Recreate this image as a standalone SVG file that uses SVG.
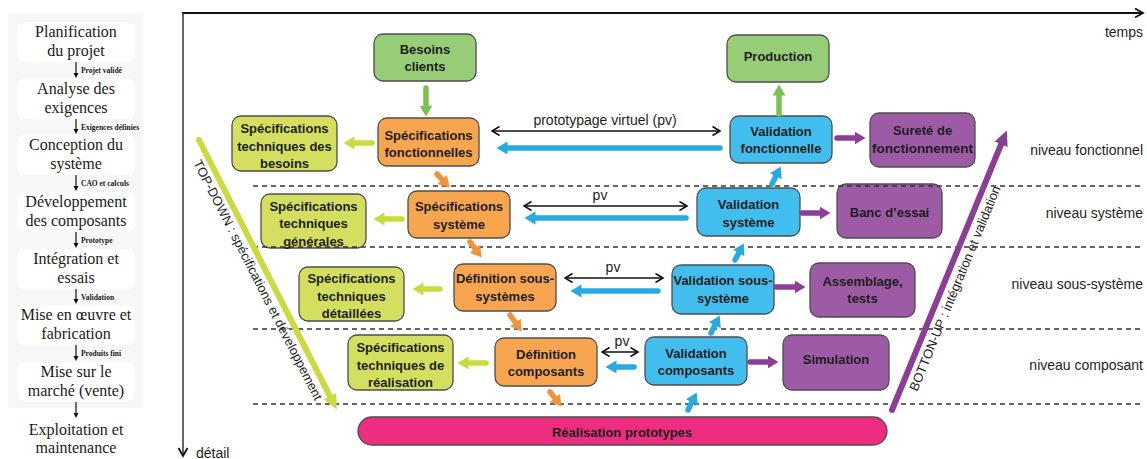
<svg xmlns="http://www.w3.org/2000/svg" width="1147" height="459" viewBox="0 0 1147 459">
<style>
.lbox{fill:#ffffff}
.ltx{font-family:"Liberation Serif",serif;font-size:16px;fill:#1a1a1a;text-anchor:middle}
.lsm{font-family:"Liberation Serif",serif;font-size:7.5px;font-weight:bold;fill:#1a1a1a}
.node rect{stroke:#4d4d4d;stroke-width:1.3}
.nt{font-family:"Liberation Sans",Arial,sans-serif;font-size:13px;font-weight:bold;fill:#1e1e1e;text-anchor:middle}
.lab{font-family:"Liberation Sans",Arial,sans-serif;font-size:14px;fill:#1e1e1e}
.green{fill:#98cd78}.orange{fill:#f8a550}.lime{fill:#d5df5f}.blue{fill:#42beee}.purple{fill:#9c5ba4}.pink{fill:#ed2d7f}
.ag{stroke:#7bc252;stroke-width:5.5;stroke-linecap:round;fill:none;marker-end:url(#mg)}
.al{stroke:#cadb40;stroke-width:5.5;stroke-linecap:round;fill:none;marker-end:url(#ml)}
.ab{stroke:#27aae1;stroke-width:5.5;stroke-linecap:round;fill:none;marker-end:url(#mb)}
.ap{stroke:#8c3e97;stroke-width:5.5;stroke-linecap:round;fill:none;marker-end:url(#mp)}
.ao{stroke:#f4923a;stroke-width:5.5;stroke-linecap:round;fill:none;marker-end:url(#mo)}
.pv{stroke:#111;stroke-width:1.6;fill:none;marker-start:url(#chev);marker-end:url(#chev)}
.dash{stroke:#333;stroke-width:1.4;stroke-dasharray:5 4;fill:none}
</style>
<defs>
<marker id="mg" markerUnits="userSpaceOnUse" markerWidth="12" markerHeight="14" refX="0.5" refY="6.5" orient="auto"><path d="M0,0 L11,6.5 L0,13 Z" fill="#7bc252"/></marker>
<marker id="ml" markerUnits="userSpaceOnUse" markerWidth="12" markerHeight="14" refX="0.5" refY="6.5" orient="auto"><path d="M0,0 L11,6.5 L0,13 Z" fill="#cadb40"/></marker>
<marker id="mb" markerUnits="userSpaceOnUse" markerWidth="12" markerHeight="14" refX="0.5" refY="6.5" orient="auto"><path d="M0,0 L11,6.5 L0,13 Z" fill="#27aae1"/></marker>
<marker id="mp" markerUnits="userSpaceOnUse" markerWidth="12" markerHeight="14" refX="0.5" refY="6.5" orient="auto"><path d="M0,0 L11,6.5 L0,13 Z" fill="#8c3e97"/></marker>
<marker id="mo" markerUnits="userSpaceOnUse" markerWidth="12" markerHeight="14" refX="0.5" refY="6.5" orient="auto"><path d="M0,0 L11,6.5 L0,13 Z" fill="#f4923a"/></marker>
<marker id="mlb" markerUnits="userSpaceOnUse" markerWidth="16" markerHeight="16" refX="0.5" refY="7" orient="auto"><path d="M0,0 L15,7 L0,14 Z" fill="#cadb40"/></marker>
<marker id="mpb" markerUnits="userSpaceOnUse" markerWidth="16" markerHeight="16" refX="0.5" refY="7" orient="auto"><path d="M0,0 L15,7 L0,14 Z" fill="#8c3e97"/></marker>
<marker id="chev" markerUnits="userSpaceOnUse" markerWidth="10" markerHeight="11" refX="8.5" refY="5" orient="auto-start-reverse"><path d="M1,0.5 L8.5,5 L1,9.5" fill="none" stroke="#111" stroke-width="1.6"/></marker>
<marker id="axh" markerUnits="userSpaceOnUse" markerWidth="12" markerHeight="12" refX="9" refY="5" orient="auto"><path d="M1,0.5 L9,5 L1,9.5" fill="none" stroke="#111" stroke-width="1.8"/></marker>
<marker id="sm" markerUnits="userSpaceOnUse" markerWidth="6" markerHeight="6" refX="0" refY="2.5" orient="auto"><path d="M0,0 L5,2.5 L0,5 Z" fill="#111"/></marker>
</defs>

<!-- Left process panel -->
<g id="left-panel">
<rect x="8" y="13" width="135" height="395" fill="#f7f7f7"/>
<g id="l-planification"><rect class="lbox" x="17" y="22" width="118" height="40" rx="8"/><text class="ltx" x="76" y="37">Planification</text><text class="ltx" x="76" y="56">du projet</text></g>
<g id="l-analyse"><rect class="lbox" x="17" y="79" width="118" height="40" rx="8"/><text class="ltx" x="76" y="94">Analyse des</text><text class="ltx" x="76" y="113">exigences</text></g>
<g id="l-conception"><rect class="lbox" x="17" y="135" width="118" height="40" rx="8"/><text class="ltx" x="76" y="150">Conception du</text><text class="ltx" x="76" y="169">système</text></g>
<g id="l-developpement"><rect class="lbox" x="17" y="192" width="118" height="40" rx="8"/><text class="ltx" x="76" y="207">Développement</text><text class="ltx" x="76" y="226">des composants</text></g>
<g id="l-integration"><rect class="lbox" x="17" y="249" width="118" height="40" rx="8"/><text class="ltx" x="76" y="264">Intégration et</text><text class="ltx" x="76" y="283">essais</text></g>
<g id="l-fabrication"><rect class="lbox" x="17" y="305" width="118" height="40" rx="8"/><text class="ltx" x="76" y="320">Mise en œuvre et</text><text class="ltx" x="76" y="339">fabrication</text></g>
<g id="l-marche"><rect class="lbox" x="17" y="362" width="118" height="40" rx="8"/><text class="ltx" x="76" y="377">Mise sur le</text><text class="ltx" x="76" y="396">marché (vente)</text></g>
<g id="l-exploitation"><text class="ltx" x="76" y="435">Exploitation et</text><text class="ltx" x="76" y="453">maintenance</text></g>
<g id="l-connectors" stroke="#111" stroke-width="1.2" marker-end="url(#sm)">
<line x1="76" y1="62" x2="76" y2="73"/>
<line x1="76" y1="119" x2="76" y2="129"/>
<line x1="76" y1="175" x2="76" y2="186"/>
<line x1="76" y1="232" x2="76" y2="243"/>
<line x1="76" y1="289" x2="76" y2="299"/>
<line x1="76" y1="345" x2="76" y2="356"/>
<line x1="76" y1="402" x2="76" y2="413"/>
</g>
<text class="lsm" x="81" y="73">Projet validé</text>
<text class="lsm" x="81" y="129.5">Exigences définies</text>
<text class="lsm" x="81" y="186">CAO et calculs</text>
<text class="lsm" x="81" y="243">Prototype</text>
<text class="lsm" x="81" y="299.5">Validation</text>
<text class="lsm" x="81" y="356">Produits fini</text>
</g>

<!-- Axes -->
<g id="axes">
<line x1="182" y1="13" x2="1143" y2="13" stroke="#111" stroke-width="2" marker-end="url(#axh)"/>
<line x1="183" y1="13" x2="183" y2="456" stroke="#333" stroke-width="1.5" marker-end="url(#axh)"/>
<text class="lab" x="1143" y="37" text-anchor="end">temps</text>
<text class="lab" x="196" y="458">détail</text>
<text class="lab" x="1143" y="155" text-anchor="end">niveau fonctionnel</text>
<text class="lab" x="1143" y="218" text-anchor="end">niveau système</text>
<text class="lab" x="1143" y="289" text-anchor="end">niveau sous-système</text>
<text class="lab" x="1143" y="370" text-anchor="end">niveau composant</text>
</g>

<!-- Nodes -->
<g id="besoins-clients" class="node"><rect class="green" x="374" y="34" width="102" height="47" rx="9"/><text class="nt" x="425" y="53.5">Besoins</text><text class="nt" x="425" y="70.5">clients</text></g>
<g id="spec-fonctionnelles" class="node"><rect class="orange" x="378" y="118" width="101" height="48" rx="9"/><text class="nt" x="428.5" y="139.5">Spécifications</text><text class="nt" x="428.5" y="156.5">fonctionnelles</text></g>
<g id="spec-tech-besoins" class="node"><rect class="lime" x="232" y="116" width="105" height="55" rx="9"/><text class="nt" x="284.5" y="132.5">Spécifications</text><text class="nt" x="284.5" y="150.5">techniques des</text><text class="nt" x="284.5" y="167.5">besoins</text></g>
<g id="production" class="node"><rect class="green" x="727" y="35" width="102" height="47" rx="9"/><text class="nt" x="778" y="60.5">Production</text></g>
<g id="validation-fonctionnelle" class="node"><rect class="blue" x="730" y="116" width="102" height="47" rx="9"/><text class="nt" x="781" y="135.5">Validation</text><text class="nt" x="781" y="152.5">fonctionnelle</text></g>
<g id="surete" class="node"><rect class="purple" x="870" y="113" width="105" height="54" rx="9"/><text class="nt" x="922.5" y="134.5">Sureté de</text><text class="nt" x="922.5" y="152.5" textLength="101" lengthAdjust="spacingAndGlyphs">fonctionnement</text></g>
<g id="spec-systeme" class="node"><rect class="orange" x="408" y="191" width="102" height="47" rx="9"/><text class="nt" x="459" y="210.5">Spécifications</text><text class="nt" x="459" y="228.5">système</text></g>
<g id="spec-tech-generales" class="node"><rect class="lime" x="261" y="194" width="105" height="54" rx="9"/><text class="nt" x="313.5" y="210.5">Spécifications</text><text class="nt" x="313.5" y="227.5">techniques</text><text class="nt" x="313.5" y="245.5">générales</text></g>
<g id="validation-systeme" class="node"><rect class="blue" x="697" y="188" width="103" height="48" rx="9"/><text class="nt" x="748.5" y="208.5">Validation</text><text class="nt" x="748.5" y="226.5">système</text></g>
<g id="banc-essai" class="node"><rect class="purple" x="837" y="184" width="105" height="54" rx="9"/><text class="nt" x="889.5" y="216.5">Banc d’essai</text></g>
<g id="def-sous-systemes" class="node"><rect class="orange" x="454" y="264" width="102" height="47" rx="9"/><text class="nt" x="505" y="282.5">Définition sous-</text><text class="nt" x="505" y="300.5">systèmes</text></g>
<g id="spec-tech-detaillees" class="node"><rect class="lime" x="299" y="267" width="105" height="54" rx="9"/><text class="nt" x="351.5" y="282.5">Spécifications</text><text class="nt" x="351.5" y="300.5">techniques</text><text class="nt" x="351.5" y="317.5">détaillées</text></g>
<g id="validation-sous-systeme" class="node"><rect class="blue" x="672" y="265" width="102" height="49" rx="9"/><text class="nt" x="723" y="284.5" textLength="99" lengthAdjust="spacingAndGlyphs">Validation sous-</text><text class="nt" x="723" y="302.5">système</text></g>
<g id="assemblage-tests" class="node"><rect class="purple" x="810" y="263" width="105" height="54" rx="9"/><text class="nt" x="862.5" y="285.5">Assemblage,</text><text class="nt" x="862.5" y="302.5">tests</text></g>
<g id="def-composants" class="node"><rect class="orange" x="495" y="338" width="102" height="48" rx="9"/><text class="nt" x="546" y="358.5">Définition</text><text class="nt" x="546" y="375.5">composants</text></g>
<g id="spec-tech-realisation" class="node"><rect class="lime" x="348" y="335" width="105" height="55" rx="9"/><text class="nt" x="400.5" y="351.5">Spécifications</text><text class="nt" x="400.5" y="369.5">techniques de</text><text class="nt" x="400.5" y="386.5">réalisation</text></g>
<g id="validation-composants" class="node"><rect class="blue" x="645" y="337" width="102" height="48" rx="9"/><text class="nt" x="696" y="357.5">Validation</text><text class="nt" x="696" y="374.5">composants</text></g>
<g id="simulation" class="node"><rect class="purple" x="783" y="335" width="106" height="55" rx="9"/><text class="nt" x="836" y="363.5">Simulation</text></g>
<g id="realisation-prototypes" class="node"><rect class="pink" x="358" y="417" width="529" height="28" rx="14" stroke="#3a3a3a"/><text class="nt" x="622" y="436.5">Réalisation prototypes</text></g>

<!-- Level guides -->
<g id="guides">
<line class="dash" x1="253" y1="186" x2="1143" y2="186"/>
<line class="dash" x1="253" y1="247" x2="1143" y2="247"/>
<line class="dash" x1="253" y1="329" x2="1143" y2="329"/>
<line class="dash" x1="253" y1="404" x2="1143" y2="404"/>
</g>

<!-- Connectors -->
<g id="connectors">
<line class="ag" x1="426" y1="88" x2="426" y2="106"/>
<line class="ag" x1="779" y1="114" x2="779" y2="95"/>
<line class="al" x1="372" y1="143" x2="354" y2="143"/>
<line class="al" x1="402" y1="219" x2="384" y2="219"/>
<line class="al" x1="440" y1="289" x2="423" y2="289"/>
<line class="al" x1="486" y1="363" x2="468" y2="363"/>
<line class="ab" x1="720" y1="148" x2="507" y2="148"/>
<line class="ab" x1="686" y1="218" x2="535" y2="218"/>
<line class="ab" x1="658" y1="291" x2="581" y2="291"/>
<line class="ab" x1="634" y1="367" x2="616" y2="367"/>
<line class="ap" x1="837" y1="138" x2="855" y2="138"/>
<line class="ap" x1="802" y1="213" x2="820" y2="213"/>
<line class="ap" x1="776" y1="287" x2="795" y2="287"/>
<line class="ap" x1="750" y1="362" x2="768" y2="362"/>
<line class="ao" x1="437" y1="174" x2="442.5" y2="179.9"/>
<line class="ao" x1="470" y1="242" x2="475.4" y2="249.2"/>
<line class="ao" x1="510" y1="315" x2="515.7" y2="323"/>
<line class="ao" x1="550" y1="392" x2="555.1" y2="398.4"/>
<line class="ab" x1="772" y1="184" x2="776.1" y2="175.8"/>
<line class="ab" x1="735" y1="260" x2="738.9" y2="252.7"/>
<line class="ab" x1="711" y1="333" x2="715.1" y2="324.8"/>
<line class="ab" x1="688" y1="410" x2="692.1" y2="401.8"/>
<line class="pv" x1="492" y1="131" x2="720" y2="131"/>
<line class="pv" x1="524" y1="206" x2="687" y2="206"/>
<line class="pv" x1="565" y1="278" x2="663" y2="278"/>
<line class="pv" x1="602" y1="352" x2="638" y2="352"/>
<text class="lab" x="605" y="124.5" text-anchor="middle">prototypage virtuel (pv)</text>
<text class="lab" x="600" y="199.5" text-anchor="middle">pv</text>
<text class="lab" x="613" y="271.5" text-anchor="middle">pv</text>
<text class="lab" x="622" y="346" text-anchor="middle">pv</text>
<line x1="199" y1="140" x2="330.2" y2="396.6" stroke="#cadb40" stroke-width="6" stroke-linecap="round" marker-end="url(#mlb)"/>
<line x1="892" y1="410" x2="1001.3" y2="143.9" stroke="#8c3e97" stroke-width="6" stroke-linecap="round" marker-end="url(#mpb)"/>
<text class="lab" style="font-size:13px" text-anchor="middle" transform="translate(254,282) rotate(62.9)">TOP-DOWN : spécifications et développement</text>
<text class="lab" style="font-size:13px" text-anchor="middle" transform="translate(959,290) rotate(-67.7)">BOTTON-UP : intégration et validation</text>
</g>
</svg>
